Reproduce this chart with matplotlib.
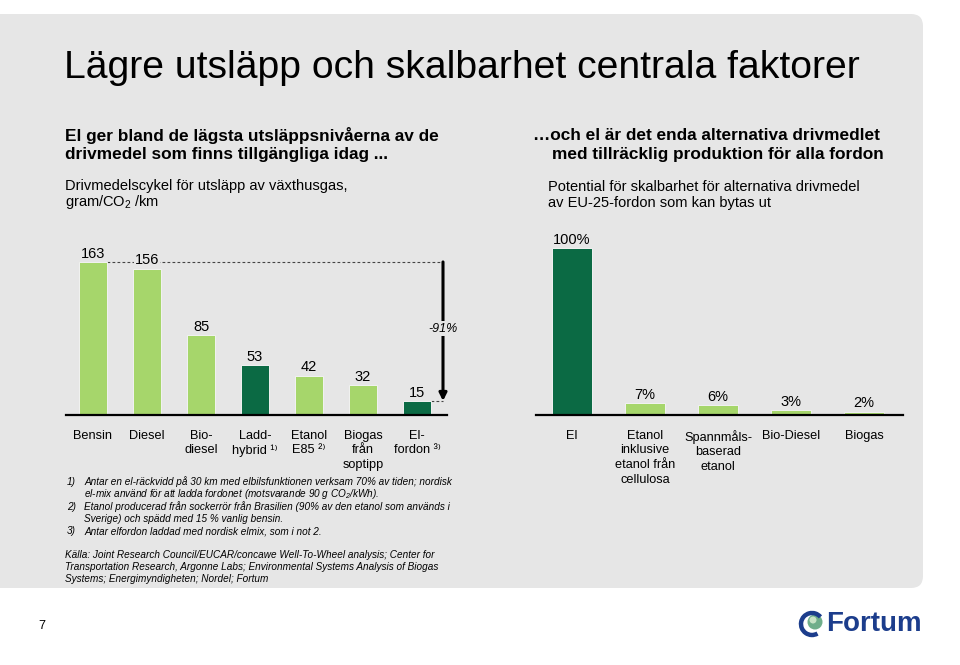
import matplotlib
matplotlib.use("Agg")
import matplotlib.pyplot as plt
from matplotlib.patches import FancyBboxPatch, Circle, Arc

plt.rcParams['font.family'] = ['Liberation Sans', 'DejaVu Sans']
plt.rcParams['mathtext.fontset'] = 'custom'
plt.rcParams['mathtext.rm'] = 'Liberation Sans'
plt.rcParams['mathtext.it'] = 'Liberation Sans:italic'
plt.rcParams['mathtext.bf'] = 'Liberation Sans:bold'
plt.rcParams['mathtext.default'] = 'regular'

# ---------------- data ----------------
left_categories = ["Bensin", "Diesel", "Bio-\ndiesel", "Ladd-\nhybrid ¹⁾",
                   "Etanol\nE85 ²⁾", "Biogas\nfrån\nsoptipp", "El-\nfordon ³⁾"]
left_values = [163, 156, 85, 53, 42, 32, 15]
left_highlight = [False, False, False, True, False, False, True]

right_categories = ["El", "Etanol\ninklusive\netanol från\ncellulosa",
                    "Spannmåls-\nbaserad\netanol", "Bio-Diesel", "Biogas"]
right_values = [100, 7, 6, 3, 2]
right_highlight = [True, False, False, False, False]
right_labels = ["100%", "7%", "6%", "3%", "2%"]

reduction_label = "-91%"

LIGHT = "#a6d66b"
DARK = "#0b6a44"
PANEL = "#e6e6e6"

W, H = 960, 665
fig = plt.figure(figsize=(W / 100, H / 100), dpi=100)
fig.patch.set_facecolor("white")

# background axes in pixel coordinates
bg = fig.add_axes([0, 0, 1, 1])
bg.set_xlim(0, W)
bg.set_ylim(H, 0)
bg.axis("off")
bg.add_patch(FancyBboxPatch((-30, 14), 953, 574,
                            boxstyle="round,pad=0,rounding_size=12",
                            facecolor=PANEL, edgecolor="none"))

bg.text(64, 68, "Lägre utsläpp och skalbarhet centrala faktorer",
        fontsize=28.2, va="center", ha="left", color="black")

# headings
hb = dict(fontsize=12.4, fontweight="bold", va="center", ha="left")
bg.text(65, 135, "El ger bland de lägsta utsläppsnivåerna av de", **hb)
bg.text(65, 155, "drivmedel som finns tillgängliga idag ...", **hb)
bg.text(533, 135, "…och el är det enda alternativa drivmedlet", **hb)
bg.text(552, 155, "med tillräcklig produktion för alla fordon", **hb)

sb = dict(fontsize=10.5, va="center", ha="left")
bg.text(65, 186, "Drivmedelscykel för utsläpp av växthusgas,", **sb)
bg.text(65, 202, "gram/CO$_2$ /km", **sb)
bg.text(548, 187, "Potential för skalbarhet för alternativa drivmedel", **sb)
bg.text(548, 203, "av EU-25-fordon som kan bytas ut", **sb)

# ---------------- left chart ----------------
BASE = 415
TOP = 230
lx0, lx1 = 66, 447
l_step, l_first = 54, 93
ax1 = fig.add_axes([lx0 / W, 1 - BASE / H, (lx1 - lx0) / W, (BASE - TOP) / H])
ax1.set_facecolor("none")
ax1.set_xlim((lx0 - l_first) / l_step, (lx1 - l_first) / l_step)
ax1.set_ylim(0, (BASE - TOP) / 0.939)
xs = list(range(len(left_values)))
ax1.bar(xs, left_values, width=0.52,
        color=[DARK if h else LIGHT for h in left_highlight],
        edgecolor="#f2f2f2", linewidth=0.7, zorder=2)
for s in ["top", "right", "left"]:
    ax1.spines[s].set_visible(False)
ax1.spines["bottom"].set_linewidth(1.6)
ax1.spines["bottom"].set_zorder(4)
ax1.set_xticks([])
ax1.set_yticks([])

cat_kw = dict(ha="center", va="top", multialignment="center", fontsize=9.2,
              linespacing=1.3, annotation_clip=False)
for i, v in enumerate(left_values):
    ax1.annotate(str(v), (xs[i], v), xytext=(0, 1), textcoords="offset points",
                 ha="center", va="bottom", fontsize=10.5, zorder=5,
                 bbox=dict(boxstyle="square,pad=0.05", facecolor=PANEL, edgecolor="none"))
    ax1.annotate(left_categories[i], (xs[i], 0), xycoords=("data", "axes fraction"),
                 xytext=(0, -10.5), textcoords="offset points", **cat_kw)

arrow_x = (443 - l_first) / l_step
ax1.plot([xs[0] + 0.26, arrow_x], [left_values[0]] * 2, ls=(0, (2.5, 2)),
         color="#444444", lw=0.8, zorder=1, clip_on=False)
ax1.plot([xs[-1] + 0.26, arrow_x], [left_values[-1]] * 2, ls=(0, (2.5, 2)),
         color="#444444", lw=0.8, zorder=1, clip_on=False)
ax1.annotate("", xy=(arrow_x, left_values[-1]), xytext=(arrow_x, left_values[0]),
             arrowprops=dict(arrowstyle="-|>", color="black", lw=2.2,
                             mutation_scale=11, shrinkA=0, shrinkB=0),
             annotation_clip=False)
ax1.text(arrow_x, (left_values[0] + left_values[-1]) / 2 + 3, reduction_label,
         ha="center", va="center", fontsize=9, style="italic", zorder=6,
         bbox=dict(boxstyle="square,pad=0.15", facecolor=PANEL, edgecolor="none"))

# ---------------- right chart ----------------
rx0, rx1 = 536, 903
r_step, r_first = 73, 572
ax2 = fig.add_axes([rx0 / W, 1 - BASE / H, (rx1 - rx0) / W, (BASE - TOP) / H])
ax2.set_facecolor("none")
ax2.set_xlim((rx0 - r_first) / r_step, (rx1 - r_first) / r_step)
ax2.set_ylim(0, (BASE - TOP) / 1.67)
xr = list(range(len(right_values)))
ax2.bar(xr, right_values, width=0.55,
        color=[DARK if h else LIGHT for h in right_highlight],
        edgecolor="#f2f2f2", linewidth=0.7, zorder=2)
for s in ["top", "right", "left"]:
    ax2.spines[s].set_visible(False)
ax2.spines["bottom"].set_linewidth(1.6)
ax2.spines["bottom"].set_zorder(4)
ax2.set_xticks([])
ax2.set_yticks([])
for i, v in enumerate(right_values):
    ax2.annotate(right_labels[i], (xr[i], v), xytext=(0, 1), textcoords="offset points",
                 ha="center", va="bottom", fontsize=10.5)
    ax2.annotate(right_categories[i], (xr[i], 0), xycoords=("data", "axes fraction"),
                 xytext=(0, -10.5), textcoords="offset points", **cat_kw)

# ---------------- footnotes ----------------
fn = dict(fontsize=7.2, style="italic", va="center", ha="left")
notes = [
    (482, "1)", "Antar en el-räckvidd på 30 km med elbilsfunktionen verksam 70% av tiden; nordisk"),
    (494, None, "el-mix använd för att ladda fordonet (motsvarande 90 g CO$_2$/kWh)."),
    (507, "2)", "Etanol producerad från sockerrör från Brasilien (90% av den etanol som används i"),
    (519, None, "Sverige) och spädd med 15 % vanlig bensin."),
    (531, "3)", "Antar elfordon laddad med nordisk elmix, som i not 2."),
]
for y, num, txt in notes:
    if num:
        bg.text(67, y, num, **fn)
    bg.text(84, y, txt, **fn)

src = ["Källa: Joint Research Council/EUCAR/concawe Well-To-Wheel analysis; Center for",
       "Transportation Research, Argonne Labs; Environmental Systems Analysis of Biogas",
       "Systems; Energimyndigheten; Nordel; Fortum"]
for k, line in enumerate(src):
    bg.text(65, 555 + 12 * k, line, fontsize=7.2, style="italic", va="center", ha="left")

# page number
bg.text(42, 626, "7", fontsize=9, va="center", ha="center")

# logo
FBLUE = "#1c3d8c"
bg.add_patch(Circle((815, 622), 7.5, facecolor="#6fae8a", edgecolor="none"))
bg.add_patch(Circle((813, 620), 3.5, facecolor="#c8e3c6", edgecolor="none"))
bg.add_patch(Arc((812, 624), 22, 22, theta1=60, theta2=320, color=FBLUE, lw=3.2))
bg.text(826, 624, "Fortum", fontsize=20, fontweight="bold", color=FBLUE,
        va="center", ha="left")

fig.savefig("out.png", dpi=100, facecolor="white")
